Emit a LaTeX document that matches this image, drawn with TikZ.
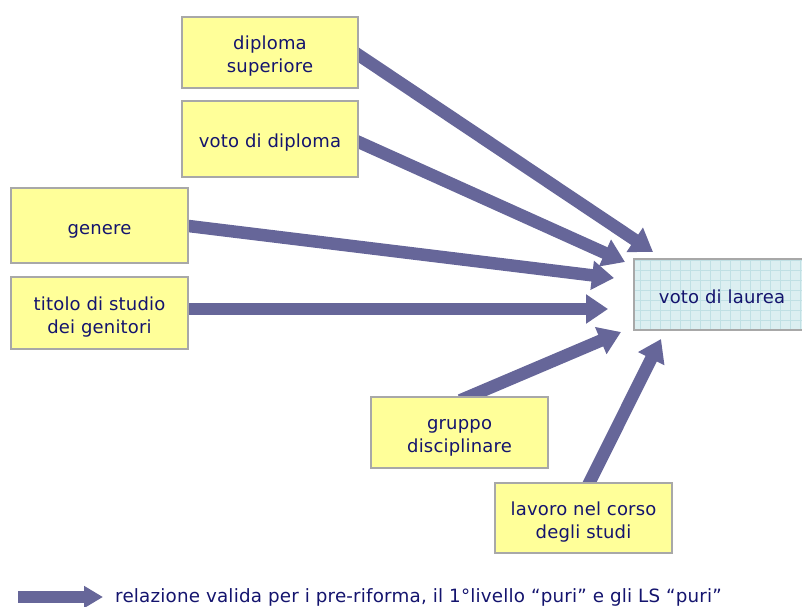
\documentclass[tikz,border=0pt]{standalone}
\usepackage{fontspec}
\setmainfont[LetterSpace=1]{DejaVu Sans}
\usetikzlibrary{arrows.meta,calc}
\pgfdeclarelayer{bg}
\pgfsetlayers{bg,main}
\definecolor{boxfill}{HTML}{FFFF99}
\definecolor{boxline}{HTML}{A8A8A8}
\definecolor{txtcol}{HTML}{14146E}
\definecolor{arrowcol}{HTML}{666699}
\definecolor{tgtfill}{HTML}{DCEFF1}
\definecolor{gridcol}{HTML}{C0E0E4}
\newcommand\boxtxt[1]{\raisebox{-4pt}[\height][\depth]{\begin{tabular}{@{}c@{}}#1\end{tabular}}}
\tikzset{
  factor/.style={draw=boxline, line width=1.2pt, fill=boxfill, text=txtcol,
    inner sep=0pt, font=\fontsize{18}{23}\selectfont},
  target/.style={draw=boxline, line width=1.2pt, text=txtcol,
    inner sep=0pt, font=\fontsize{18}{23}\selectfont},
  bigarrow/.style={draw=arrowcol, line width=12.5pt,
    -{Triangle[width=28pt,length=22pt]}},
}
\begin{document}
\begin{tikzpicture}[x=1pt,y=-1pt]
\useasboundingbox (0,0) rectangle (802,606);
% factor boxes
\node[factor, minimum width=176pt, minimum height=71pt] (ds) at (270,52.5) {\boxtxt{diploma\\superiore}};
\node[factor, minimum width=176pt, minimum height=76pt] (vd) at (270,139) {\boxtxt{voto di diploma}};
\node[factor, minimum width=177pt, minimum height=75pt] (ge) at (99.5,225.5) {\boxtxt{genere}};
\node[factor, minimum width=177pt, minimum height=72pt] (ti) at (99.5,313) {\boxtxt{titolo di studio\\dei genitori}};
\node[factor, minimum width=177pt, minimum height=71pt] (gr) at (459.5,432.5) {\boxtxt{gruppo\\disciplinare}};
\node[factor, minimum width=177pt, minimum height=70pt] (la) at (583.5,518) {\boxtxt{lavoro nel corso\\degli studi}};
% target box
\node[target, minimum width=176pt, minimum height=71pt] (vl) at (722,294.5) {\boxtxt{voto di laurea}};
% arrow tips
\coordinate (t1) at (653,252);
\coordinate (t2) at (625,262);
\coordinate (t3) at (614,278);
\coordinate (t4) at (608,309);
\coordinate (t5) at (621,332);
\coordinate (t6) at (661,339);
% legend
\coordinate (l1) at (18,597);
\coordinate (l2) at (103,597);
\node[anchor=base west, text=txtcol, inner sep=0pt, font=\fontsize{18.3}{20}\selectfont] (leg) at (115,602)
  {relazione valida per i pre-riforma, il 1°livello “puri” e gli LS “puri”};
\begin{pgfonlayer}{bg}
  \fill[tgtfill] (vl.south west) rectangle (vl.north east);
  \begin{scope}
    \clip (vl.south west) rectangle (vl.north east);
    \draw[gridcol, line width=0.8pt, step=10pt] ($(vl.south west)+(-2,2)$) grid ($(vl.north east)+(2,-2)$);
  \end{scope}
  \draw[bigarrow, shorten <=-10pt] ([yshift=-2.5pt]ds.east) -- (t1);
  \draw[bigarrow, shorten <=-10pt] ([yshift=-3pt]vd.east) -- (t2);
  \draw[bigarrow, shorten <=-10pt] ([yshift=-0.5pt]ge.east) -- (t3);
  \draw[bigarrow, shorten <=-10pt] ([yshift=4pt]ti.east) -- (t4);
  \draw[bigarrow, shorten <=-10pt] ([xshift=10pt]gr.north) -- (t5);
  \draw[bigarrow, shorten <=-10pt] ([xshift=6pt]la.north) -- (t6);
\end{pgfonlayer}
\draw[draw=arrowcol, line width=12pt, -{Triangle[width=21pt,length=19pt]}] (l1) -- (l2);
\end{tikzpicture}
\end{document}
